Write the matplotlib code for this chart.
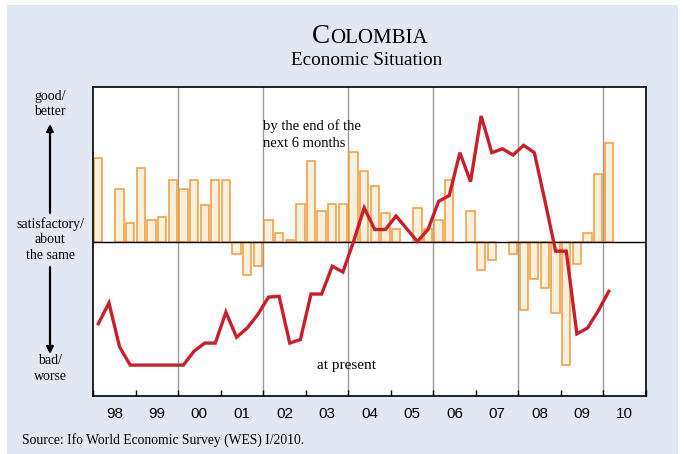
import numpy as np
import pandas as pd
import matplotlib
matplotlib.use("Agg")
import matplotlib.pyplot as plt
from matplotlib.patches import Rectangle, FancyArrowPatch

# WES scale: 1 = bad, 5 = satisfactory, 9 = good
quarters = pd.period_range("1998Q1", "2010Q1", freq="Q")

# expected situation by the end of the next 6 months (nan = no survey value)
expectations = [
    7.15, np.nan, 6.35, 5.48,
    6.91, 5.56, 5.64, 6.60,
    6.35, 6.60, 5.95, 6.60,
    6.60, 4.68, 4.12, 4.36,
    5.56, 5.23, 5.03, 5.96,
    7.09, 5.80, 5.96, 5.96,
    7.31, 6.83, 6.44, 5.73,
    5.33, np.nan, 5.87, 5.33,
    5.56, 6.60, np.nan, 5.80,
    4.27, 4.52, np.nan, 4.68,
    3.23, 4.03, 3.80, 3.15,
    1.79, 4.43, 5.23, 6.75,
    7.56,
]

# present economic situation
present = [
    2.87, 3.41, 2.27, 1.80,
    1.80, 1.80, 1.80, 1.80,
    1.80, 2.16, 2.37, 2.37,
    3.17, 2.52, 2.76, 3.11,
    3.56, 3.58, 2.37, 2.46,
    3.64, 3.64, 4.36, 4.21,
    5.00, 5.87, 5.31, 5.31,
    5.66, 5.33, 5.00, 5.31,
    6.04, 6.19, 7.30, 6.55,
    8.25, 7.30, 7.40, 7.24,
    7.49, 7.30, 6.05, 4.75,
    4.75, 2.61, 2.76, 3.20,
    3.71,
]

year_labels = ["98", "99", "00", "01", "02", "03", "04", "05", "06", "07", "08", "09", "10"]

serif = ["Liberation Serif", "DejaVu Serif"]
sans = ["Liberation Sans", "DejaVu Sans"]

W, H = 684, 454
x = quarters.year + (quarters.quarter - 0.5) / 4
exp = np.array(expectations, dtype=float)

fig = plt.figure(figsize=(W / 100, H / 100), dpi=100)
fig.patch.set_facecolor("white")
fig.patches.append(Rectangle((7 / W, 0), 671 / W, 1 - 5 / H,
                             transform=fig.transFigure, facecolor="#e1e8f3",
                             edgecolor="none", zorder=-10))

ax = fig.add_axes([93 / W, 1 - 396 / H, 553 / W, 309 / H])
ax.set_facecolor("white")

ax.bar(x, exp - 5, bottom=5, width=0.195, color="#f7f1de",
       edgecolor="#f29a3a", linewidth=1.1, zorder=2)
ax.plot(x, present, color="#c8202b", linewidth=2.4, zorder=4,
        solid_joinstyle="miter")

ax.axhline(5, color="black", linewidth=1.0, zorder=3)
for yr in range(2000, 2011, 2):
    ax.axvline(yr, color="#999999", linewidth=1.0, zorder=1)

ax.set_xlim(1998, 2011)
ax.set_ylim(1, 9)
ax.set_yticks([])
ax.set_xticks(range(1998, 2012))
ax.set_xticklabels([])
ax.set_xticks(np.arange(1998.5, 2011, 1), minor=True)
ax.set_xticklabels(year_labels, minor=True, fontsize=11, family=sans)
ax.tick_params(axis="x", which="major", direction="in", length=4, width=1)
ax.tick_params(axis="x", which="minor", length=0, pad=8)
for s in ax.spines.values():
    s.set_linewidth(1.2)

ax.text(2002.0, 7.77, "by the end of the\nnext 6 months", family=serif,
        fontsize=10.5, ha="left", va="center", linespacing=1.35)
ax.text(2003.97, 1.78, "at present", family=serif, fontsize=11,
        ha="center", va="center")


# left-hand scale description
def ftext(px, py, s, ls):
    fig.text(px / W, 1 - py / H, s, family=serif, fontsize=10,
             ha="center", va="center", linespacing=ls)


ftext(50, 104, "good/\nbetter", 1.15)
ftext(50, 239.5, "satisfactory/\nabout\nthe same", 1.25)
ftext(50, 369, "bad/\nworse", 1.3)
for y0, y1 in [(213, 124), (267, 354)]:
    fig.add_artist(FancyArrowPatch(
        (50 / W, 1 - y0 / H), (50 / W, 1 - y1 / H),
        transform=fig.transFigure, arrowstyle="-|>", mutation_scale=10,
        color="black", linewidth=1.6, shrinkA=0, shrinkB=0))

# title in small caps
fig.canvas.draw()
r = fig.canvas.get_renderer()
big = fig.text(0, 1 - 43 / H, "C", family=serif, fontsize=19.5, va="baseline")
small = fig.text(0, 1 - 43 / H, "OLOMBIA", family=serif, fontsize=15,
                 va="baseline")
wb = big.get_window_extent(r).width
ws = small.get_window_extent(r).width
left = 370 - (wb + ws) / 2
big.set_x(left / W)
small.set_x((left + wb) / W)
fig.text(367 / W, 1 - 65 / H, "Economic Situation", family=serif,
         fontsize=13.8, ha="center", va="baseline")

fig.text(22 / W, 1 - 440 / H, "Source: Ifo World Economic Survey (WES) I/2010.",
         family=serif, fontsize=9.8, ha="left", va="center")

fig.savefig("out.png", dpi=100)
